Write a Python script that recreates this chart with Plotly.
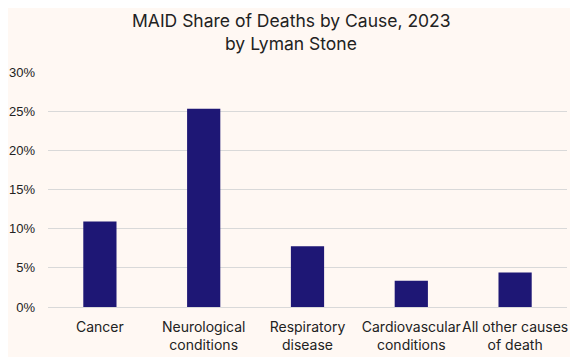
import plotly.graph_objects as go

categories = ["Cancer", "Neurological<br>conditions", "Respiratory<br>disease",
              "Cardiovascular<br>conditions", "All other causes<br>of death"]
values = [0.109, 0.253, 0.0775, 0.0335, 0.044]
tick_vals = [0, 0.05, 0.10, 0.15, 0.20, 0.25, 0.30]
tick_text = ["0%", "5%", "10%", "15%", "20%", "25%", "30%"]
title_line1 = "MAID Share of Deaths by Cause, 2023"
title_line2 = "by Lyman Stone"

bg = "#FFF8F3"
tfont = dict(family="Inter, Open Sans, sans-serif", size=17.5, color="#222222")
fig = go.Figure(go.Bar(x=categories, y=values, marker_color="#1E1775",
                       marker_line_width=0))
fig.update_layout(
    width=578, height=357,
    paper_bgcolor=bg, plot_bgcolor=bg,
    margin=dict(l=40, r=19, t=64, b=58, autoexpand=False),
    bargap=0.68,
    showlegend=False,
    font=dict(family="Liberation Sans, Arial, sans-serif", color="#333333"),
    annotations=[
        dict(text=title_line1, xref="paper", yref="paper", x=0.469, y=1.221,
             xanchor="center", yanchor="middle", showarrow=False, font=tfont),
        dict(text=title_line2, xref="paper", yref="paper", x=0.469, y=1.123,
             xanchor="center", yanchor="middle", showarrow=False, font=tfont),
    ],
)
fig.update_xaxes(tickfont=dict(family="Inter, Open Sans, sans-serif", size=14, color="#222222"),
                 showline=False, ticks="", showgrid=False, tickangle=0, ticklabelstandoff=10)
fig.update_yaxes(range=[0, 0.30], tickvals=tick_vals, ticktext=tick_text,
                 showgrid=True, gridcolor="#D9D9D9", gridwidth=1, zeroline=True,
                 zerolinecolor="#D9D9D9", zerolinewidth=1,
                 tickfont=dict(family="Liberation Sans, Arial, sans-serif", size=13, color="#222222"),
                 ticks="", ticklen=0, ticklabelstandoff=12)
fig.write_html("out.html")
